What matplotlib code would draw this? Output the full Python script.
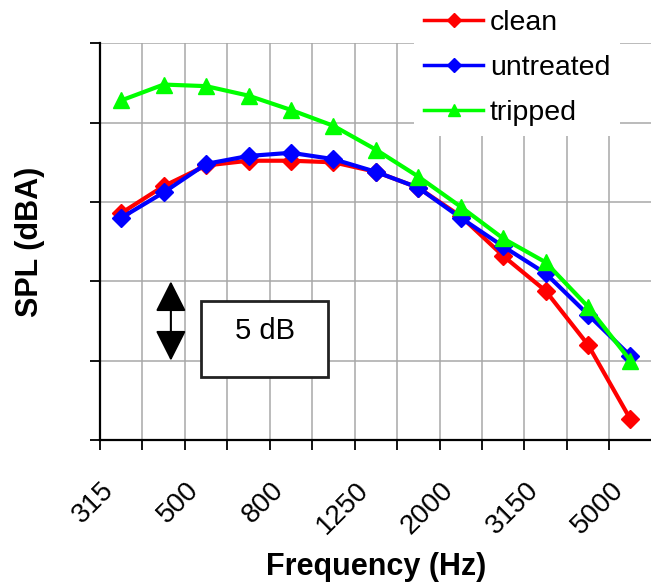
import matplotlib
matplotlib.use("Agg")
import matplotlib.pyplot as plt
from matplotlib.patches import Rectangle
from matplotlib.transforms import ScaledTranslation

plt.rcParams['font.family'] = ['Liberation Sans', 'DejaVu Sans']

# 1/3 octave band edges (grid) and band levels (relative dB, 5 dB per grid)
bands = ["315", "400", "500", "630", "800", "1000", "1250", "1600",
         "2000", "2500", "3150", "4000", "5000", "6300"]
clean = [14.3, 16.0, 17.3, 17.6, 17.6, 17.5, 16.9, 15.9, 14.1, 11.6, 9.4, 6.0, 1.3]
untreated = [14.0, 15.6, 17.4, 17.9, 18.1, 17.7, 16.9, 15.9, 14.0, 12.2, 10.5, 7.9, 5.3]
tripped = [21.4, 22.4, 22.3, 21.7, 20.8, 19.8, 18.3, 16.6, 14.7, 12.7, 11.2, 8.4, 5.0]

x = [i + 0.5 for i in range(len(clean))]

fig = plt.figure(figsize=(6.51, 5.87), dpi=100)
ax = fig.add_axes([100/651, 1 - 440/587, 551.7/651, 396.7/587])

ax.plot(x, clean, color='#ff0000', lw=3, marker='D', ms=9, label='clean', zorder=3)
ax.plot(x, untreated, color='#0000ff', lw=3, marker='D', ms=9, label='untreated', zorder=3)
ax.plot(x, tripped, color='#00ff00', lw=3, marker='^', ms=11, label='tripped', zorder=3)

ax.set_xlim(0, 13)
ax.set_ylim(0, 25)
ax.set_xticks(range(13))
ax.set_xticklabels([])
# rotated labels on every other band edge, placed by hand (lower and a bit right)
off = ax.get_xaxis_transform() + ScaledTranslation(0.10, -0.46, fig.dpi_scale_trans)
for i, b in enumerate(bands[:13]):
    if i % 2 == 0:
        ax.text(i, 0, b, transform=off, rotation=45, ha='right', va='center',
                rotation_mode='anchor', fontsize=20, clip_on=False)
ax.set_yticks(range(0, 26, 5))
ax.set_yticklabels([])
ax.tick_params(direction='out', length=7, width=1.3, color='black')
ax.grid(True, color='#a8a8a8', lw=1.1)
ax.set_axisbelow(True)
for s in ['top', 'right']:
    ax.spines[s].set_visible(False)
for s in ['left', 'bottom']:
    ax.spines[s].set_linewidth(1.6)

ax.set_xlabel('Frequency (Hz)', fontsize=22, fontweight='bold')
ax.xaxis.set_label_coords(0.5, -0.283)
ax.set_ylabel('SPL (dBA)', fontsize=22, fontweight='bold', labelpad=29)

# 5 dB scale indicator
ax.annotate('', xy=(1.67, 10), xytext=(1.67, 5),
            arrowprops=dict(arrowstyle='<|-|>,head_length=0.95,head_width=0.48',
                            mutation_scale=20, color='black', lw=1.5,
                            shrinkA=0, shrinkB=0))
ax.add_patch(Rectangle((2.38, 3.97), 3.0, 4.8, fill=True, facecolor='white',
                       edgecolor='#222222', lw=2, zorder=4))
ax.text(3.88, 6.85, '5 dB', ha='center', va='center', fontsize=21, zorder=5)

leg = fig.legend(loc='upper right', bbox_to_anchor=(620/651, 1.0), fontsize=20.5,
                 frameon=True, fancybox=False, edgecolor='none', framealpha=1,
                 handlelength=2.1, handletextpad=0.22, labelspacing=0.66,
                 borderpad=0.35, borderaxespad=0, markerscale=0.8)
for h in leg.legend_handles:
    h.set_linewidth(2.5)

fig.savefig('out.png', dpi=100)
